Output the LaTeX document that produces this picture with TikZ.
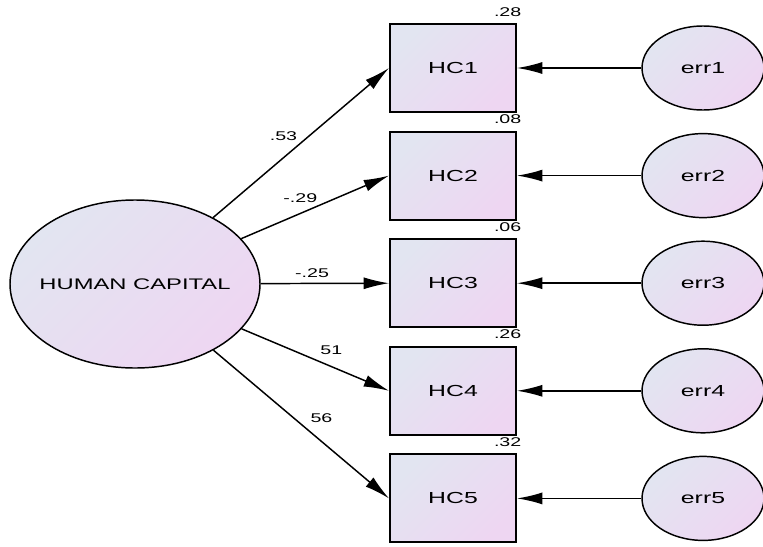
\documentclass[tikz,border=0pt]{standalone}
\usepackage{fontspec}
\setmainfont{Liberation Sans}
\newfontfamily\semfont[FakeStretch=1.55]{Liberation Sans}
\usetikzlibrary{arrows.meta,shapes.geometric}

\definecolor{semtop}{RGB}{226,229,241}
\definecolor{sembot}{RGB}{238,214,242}

\tikzset{
    semfill/.style={draw=black, top color=semtop, bottom color=sembot,
        shading angle=45, inner sep=0pt},
    obsbox/.style={semfill, rectangle, line width=1.5pt,
        minimum width=94.5pt, minimum height=66pt,
        font=\semfont\fontsize{12}{14}\selectfont},
    latent/.style={semfill, ellipse, line width=1.1pt, inner xsep=-10pt,
        minimum width=187.5pt, minimum height=126pt,
        font=\semfont\fontsize{11.5}{13}\selectfont},
    errterm/.style={semfill, ellipse, line width=1.1pt,
        minimum width=91.5pt, minimum height=63pt,
        font=\semfont\fontsize{12}{14}\selectfont},
    lbl/.style={inner sep=0pt, font=\semfont\fontsize{9.5}{11}\selectfont},
    semarrow/.style={line width=1.1pt, -{Latex[length=19pt, width=9pt]}}
}

\begin{document}
\begin{tikzpicture}[x=0.75pt, y=-0.75pt]
    \useasboundingbox (0, 0) rectangle (763, 546);

    % latent variable
    \node[latent] (hcap) at (135, 284) {HUMAN CAPITAL};

    % indicators, errors and R^2
    \foreach \i/\rsq in {1/.28, 2/.08, 3/.06, 4/.26, 5/.32} {
        \node[obsbox] (hc\i) at (453, {68 + (\i - 1) * 107.6}) {HC\i};
        \node[errterm] (err\i) at (703, {68 + (\i - 1) * 107.6}) {err\i};
        \node[lbl] (rsq\i) at ([xshift=-7pt, yshift=8.5pt]hc\i.north east)
            {\rsq};
        \draw[semarrow] (err\i) -- (hc\i);
    }

    % loadings
    \foreach \i/\ld/\p/\dx/\dy in {1/.53/0.4/0/16.5, 2/-.29/0.4/0/11.8,
            3/-.25/0.4/0/7.5, 4/51/0.6/1/12, 5/56/0.6/2/16}
        \draw[semarrow] (hcap) -- (hc\i.west)
            node[lbl, pos=\p, xshift=\dx pt, yshift=\dy pt] {\ld};
\end{tikzpicture}
\end{document}
